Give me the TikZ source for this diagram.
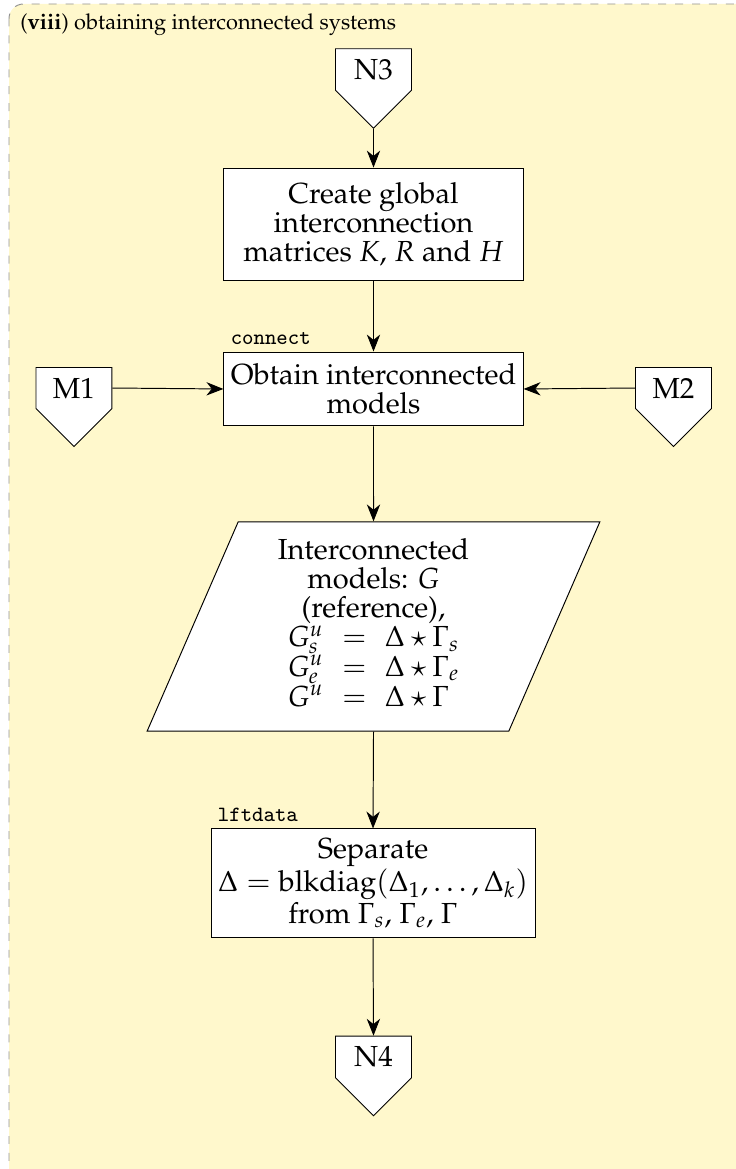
\documentclass[tikz,border=0pt]{standalone}
\usepackage[T1]{fontenc}
\usepackage{mathpazo}
\usetikzlibrary{arrows.meta,shapes.geometric,shapes.symbols,positioning}
\definecolor{stepbg}{RGB}{255,248,204}
\newcommand{\boxfont}{\fontsize{12}{12}\selectfont}
\newcommand{\fnfont}{\fontencoding{OT1}\fontfamily{cmtt}\fontsize{9.3}{11}\selectfont}
\tikzstyle{every node}+=[inner sep=1mm,align=center,font=\boxfont]
\tikzstyle{process}=[draw,fill=white,rectangle,minimum width=4.345cm]
\tikzstyle{io}=[draw,fill=white,trapezium,trapezium left angle=70,trapezium right angle=110,trapezium stretches=true,minimum width=6.58cm,minimum height=3.04cm,inner sep=0pt]
\tikzstyle{offpage}=[draw,fill=white,signal,signal to=south,signal pointer angle=90,text width=0.75cm,inner xsep=0.177cm,inner ysep=4.3pt]
\tikzstyle{fnlabel}=[font=\fnfont,inner sep=1mm]
\tikzstyle{frame}=[draw=gray!85,dash pattern=on 3.3pt off 3.7pt,fill=stepbg,rounded corners=6pt]
\newcommand{\drawflow}[2][\empty]{
	\foreach \a/\b in {#2}{
		\draw[#1] (\a) -- (\b);
	}
}

\begin{document}
\begin{tikzpicture}[>={Stealth[length=7pt,width=5.5pt,inset=2.2pt]}]
	\useasboundingbox (0,0) rectangle (10.694,-16.986);
	\draw[frame] (0.131,-0.058) rectangle (11.3,-17.4);
	\node[anchor=base west,inner sep=0pt,font=\small] (title) at (0.29,-0.43) {(\textbf{viii}) obtaining interconnected systems};

	\node[offpage] (n3) at (5.427,-1.01) {N3};
	\node[process,minimum height=1.627cm] (create) at (5.427,-3.255)
		{Create global\\interconnection\\matrices $K$, $R$ and $H$};
	\node[process,minimum height=1.075cm,
		label={[fnlabel,anchor=south west]north west:connect}] (obtain) at (5.427,-5.652)
		{Obtain interconnected\\models};
	\node[offpage] (m1) at (1.075,-5.638) {M1};
	\node[offpage] (m2) at (9.786,-5.638) {M2};
	\node[io] (models) at (5.427,-9.103)
		{Interconnected\\models:  $G$\\(reference),\\
		$\arraycolsep=3.8pt\begin{array}{rcl}
			G^u_s & = & \Delta\star\Gamma_s\\
			G^u_e & = & \Delta\star\Gamma_e\\
			G^u & = & \Delta\star\Gamma
		\end{array}$};
	\node[process,minimum width=4.708cm,minimum height=1.584cm,
		label={[fnlabel,anchor=south west]north west:lftdata}] (separate) at (5.42,-12.837)
		{Separate\\$\Delta=\mathrm{blkdiag}(\Delta_1,\ldots,\Delta_k)$\\from $\Gamma_s$, $\Gamma_e$, $\Gamma$};
	\node[offpage] (n4) at (5.427,-15.358) {N4};

	\drawflow[->]{n3.south/create.north,create.south/obtain.north,m1.east/obtain.west,m2.west/obtain.east,obtain.south/models.north,models.south/separate.north,separate.south/n4.north};
\end{tikzpicture}
\end{document}
